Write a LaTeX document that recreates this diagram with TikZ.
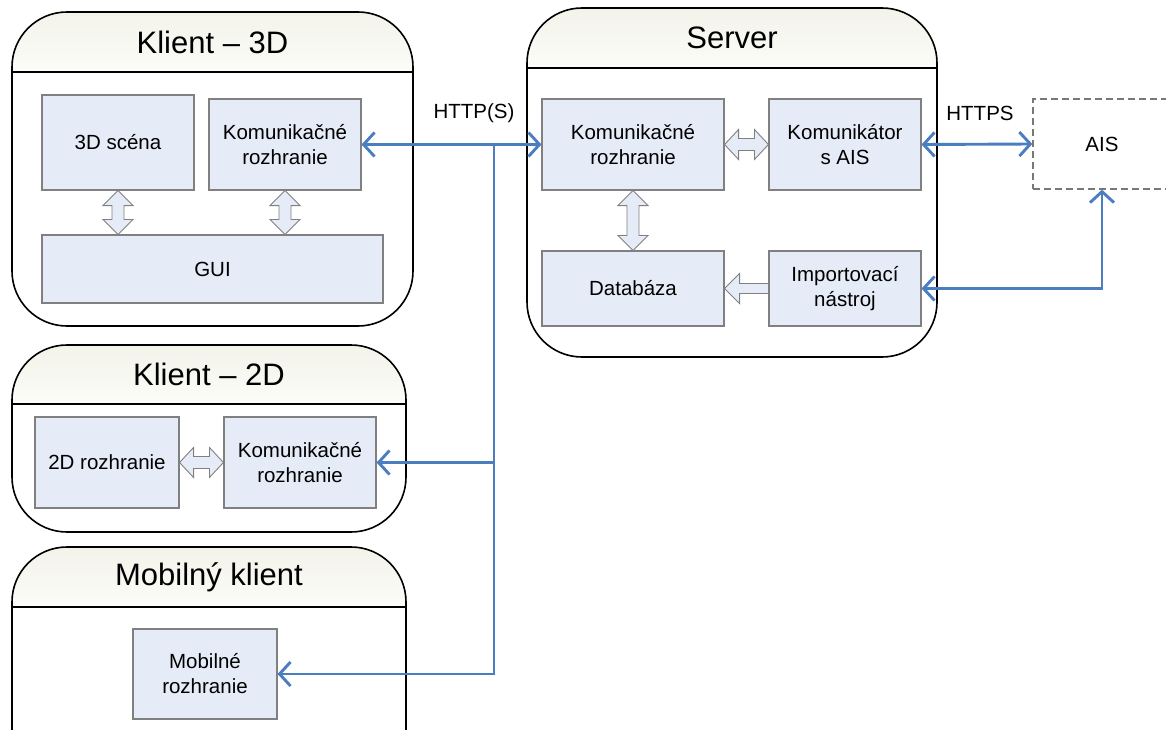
\documentclass[tikz,border=0pt]{standalone}
\usepackage{fontspec}
\setmainfont{Liberation Sans}
\usetikzlibrary{arrows.meta,calc}

\definecolor{boxfill}{RGB}{230,236,247}
\definecolor{boxline}{RGB}{128,128,128}
\definecolor{busblue}{RGB}{74,126,193}
\definecolor{hdtop}{RGB}{243,243,234}
\definecolor{hdbot}{RGB}{252,252,249}
\definecolor{dashgray}{RGB}{120,120,120}

\tikzset{
  comp/.style={draw=boxline, line width=1.1pt, fill=boxfill, align=center,
    inner sep=0pt, font=\fontsize{20.5}{25}\selectfont},
  extsys/.style={draw=dashgray, line width=1.3pt, dash pattern=on 7pt off 4pt,
    align=center, inner sep=0pt, font=\fontsize{20.5}{25}\selectfont},
  paneltitle/.style={font=\fontsize{31}{37}\selectfont, inner sep=0pt},
  panelline/.style={draw=black, line width=1.6pt},
  bus/.style={draw=busblue, line width=2.9pt,
    arrows={Straight Barb[length=11pt,width=24pt]-Straight Barb[length=11pt,width=24pt]}},
  busto/.style={draw=busblue, line width=2.9pt, -{Straight Barb[length=11pt,width=24pt]}},
  blockarrow/.style={draw=boxline, line width=0.9pt, fill=boxfill, line join=miter},
  protolabel/.style={font=\fontsize{20.5}{25}\selectfont, inner sep=0pt},
}

% rounded panel with a shaded title band
\newcommand{\panel}[7]{%
  \begin{scope}
    \clip[rounded corners=55pt] (#1,#2) rectangle (#3,#4);
    \shade[top color=hdtop, bottom color=hdbot] (#1,#2) rectangle (#3,#5);
  \end{scope}
  \draw[panelline, rounded corners=55pt] (#1,#2) rectangle (#3,#4);
  \draw[panelline] (#1,#5) -- (#3,#5);
  \node[paneltitle] (#6) at ({(#1+#3)/2},{(#2+#5)/2}) {#7};
}

% vertical double block arrow between two anchors on one x
\newcommand{\vdbl}[2]{%
  \draw[blockarrow] let \p1=(#1), \p2=(#2) in
    (\x1,\y1) -- (\x1+15pt,\y1-15pt) -- (\x1+6pt,\y1-15pt) -- (\x1+6pt,\y2+15pt)
    -- (\x1+15pt,\y2+15pt) -- (\x1,\y2) -- (\x1-15pt,\y2+15pt) -- (\x1-6pt,\y2+15pt)
    -- (\x1-6pt,\y1-15pt) -- (\x1-15pt,\y1-15pt) -- cycle;}

% horizontal double block arrow between two anchors on one y
\newcommand{\hdbl}[2]{%
  \draw[blockarrow] let \p1=(#1), \p2=(#2) in
    (\x1,\y1) -- (\x1+14pt,\y1+15pt) -- (\x1+14pt,\y1+6pt) -- (\x2-14pt,\y1+6pt)
    -- (\x2-14pt,\y1+15pt) -- (\x2,\y1) -- (\x2-14pt,\y1-15pt) -- (\x2-14pt,\y1-6pt)
    -- (\x1+14pt,\y1-6pt) -- (\x1+14pt,\y1-15pt) -- cycle;}

% single block arrow pointing left, tip at #1, tail at #2
\newcommand{\hleft}[2]{%
  \draw[blockarrow] let \p1=(#1), \p2=(#2) in
    (\x1,\y1) -- (\x1+15pt,\y1+15pt) -- (\x1+15pt,\y1+5pt) -- (\x2,\y1+5pt)
    -- (\x2,\y1-5pt) -- (\x1+15pt,\y1-5pt) -- (\x1+15pt,\y1-15pt) -- cycle;}

\begin{document}
\begin{tikzpicture}[x=1pt,y=-1pt]
  \clip (0,0) rectangle (1166,730);
  \fill[white] (0,0) rectangle (1166,730);

  % panels
  \panel{12}{12}{413}{326}{72}{t3d}{Klient – 3D}
  \panel{527}{8}{937}{357}{68}{tsrv}{Server}
  \panel{12}{345}{406}{532}{404}{t2d}{Klient – 2D}
  \panel{12}{547}{406}{790}{607}{tmob}{Mobilný klient}

  % 3D client
  \node[comp, minimum width=152pt, minimum height=95pt] (scena) at (118,142.5) {3D scéna};
  \node[comp, minimum width=152pt, minimum height=91pt] (kom3) at (285,144.5) {Komunikačné\\rozhranie};
  \node[comp, minimum width=341pt, minimum height=68pt] (gui) at (212.5,269) {GUI};

  % server
  \node[comp, minimum width=182pt, minimum height=91pt] (skom) at (633,144.5) {Komunikačné\\rozhranie};
  \node[comp, minimum width=152pt, minimum height=91pt] (kais) at (845,144.5) {Komunikátor\\s AIS};
  \node[comp, minimum width=182pt, minimum height=75pt] (db) at (633,288.5) {Databáza};
  \node[comp, minimum width=152pt, minimum height=75pt] (imp) at (845,288.5) {Importovací\\nástroj};

  % 2D client
  \node[comp, minimum width=144pt, minimum height=91pt] (r2d) at (107,462.5) {2D rozhranie};
  \node[comp, minimum width=152pt, minimum height=91pt] (kom2) at (300,462.5) {Komunikačné\\rozhranie};

  % mobile client
  \node[comp, minimum width=144pt, minimum height=90pt] (mob) at (205,674) {Mobilné\\rozhranie};

  % external system
  \node[extsys, minimum width=138pt, minimum height=90pt] (ais) at (1102,144) {AIS};

  % internal block arrows
  \vdbl{scena.south}{scena.south |- gui.north}
  \vdbl{kom3.south}{kom3.south |- gui.north}
  \vdbl{skom.south}{db.north}
  \hdbl{skom.east}{kais.west}
  \hleft{db.east}{imp.west}
  \hdbl{r2d.east}{kom2.west}

  % network connections
  \coordinate (j1) at (494,144.5);
  \coordinate (j2) at (494,462.5);
  \coordinate (j3) at (494,674);
  \draw[bus] (kom3.east) -- (skom.west);
  \draw[busto] (j1) -- (j3) -- (mob.east);
  \draw[busto] (j2) -- (kom2.east);
  \draw[bus] (kais.east) -- (ais.west);
  \draw[bus] (imp.east) -| (ais.south);

  % protocol labels
  \node[protolabel] (lhttp) at (474,113) {HTTP(S)};
  \node[protolabel] (lhttps) at (980,113) {HTTPS};
\end{tikzpicture}
\end{document}
